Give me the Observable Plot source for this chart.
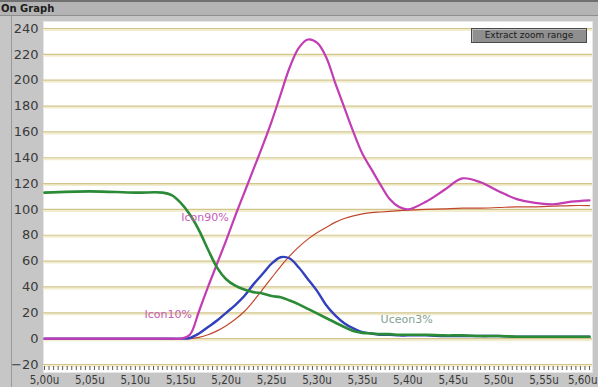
<!DOCTYPE html>
<html>
<head>
<meta charset="utf-8">
<script src="https://cdn.jsdelivr.net/npm/d3@7"></script>
<script src="https://cdn.jsdelivr.net/npm/@observablehq/plot@0.6"></script>
<style>
  body { margin: 0; background: #c6c6c6; }
  #wrap { position: relative; width: 598px; height: 387px; overflow: hidden; background: #c6c6c6; font-family: "DejaVu Sans", sans-serif; }
  #chart { position: absolute; left: 0; top: 0; }
  #bar { position: absolute; left: 0; top: 0; width: 598px; height: 16px; box-sizing: border-box; padding: 0 0 0 1px;
         background: #b4b4b4; border-top: 2px solid #707070; border-bottom: 1px solid #8e8e8e;
         font: bold 10px "DejaVu Sans", sans-serif; color: #1c1c1c; line-height: 13px; }
  #edge { position: absolute; left: 11px; top: 16px; width: 1px; height: 371px; background: #9a9a9a; }
  #btn { position: absolute; left: 471px; top: 28px; width: 116px; height: 15px; box-sizing: border-box;
         background: #8f8f8f; border: 1px solid #4a4a4a; box-shadow: inset 1px 1px 0 #bdbdbd;
         font: 9px "DejaVu Sans", sans-serif; color: #1a1a1a; text-align: center; line-height: 13px; }
</style>
</head>
<body>
<div id="wrap">
  <div id="chart"></div>
  <div id="edge"></div>
  <div id="bar">On Graph</div>
  <div id="btn">Extract zoom range</div>
</div>
<script>
// Sample times (µs)
const time = [5.00, 5.05, 5.10, 5.13, 5.14,
  5.15, 5.16, 5.17, 5.18, 5.19, 5.20, 5.21, 5.22, 5.23, 5.24,
  5.25, 5.26, 5.27, 5.28, 5.29, 5.30, 5.31, 5.32, 5.33, 5.34,
  5.35, 5.36, 5.37, 5.38, 5.39, 5.40,
  5.42, 5.44, 5.46, 5.48, 5.50, 5.52, 5.54, 5.56, 5.58, 5.60];

// Collector current Icon (magenta)
const icon = [0, 0, 0, 0, 0,
  0, 3, 21, 40, 58, 76, 95, 113, 131, 149,
  168, 189, 210, 225, 231.5, 229, 218, 198, 179, 160,
  143, 131, 119, 108, 102, 100,
  106, 115, 124, 121, 114, 108, 105, 104, 106, 107];

// Blue trace
const blue = [0, 0, 0, 0, 0,
  0, 0.5, 4, 9, 14, 20, 26, 33, 42, 50,
  58, 63, 62, 55, 46, 37, 26, 18, 12, 8,
  5, 4, 3, 3, 2.5, 2.5,
  2.5, 2, 2, 2, 2, 1.5, 1.5, 1.5, 1.5, 1.5];

// Red trace
const red = [0, 0, 0, 0, 0,
  0, 0, 1, 3, 6, 10, 15, 21, 29, 38,
  47, 56, 64, 71, 77, 82, 86, 90, 93, 95,
  96.5, 97.5, 98, 98.5, 99, 99.5,
  100, 100.5, 101, 101, 101.5, 102, 102, 102.5, 103, 103];

// Collector-emitter voltage Uce (green)
const uce = [113, 114, 113, 113, 111,
  105, 96, 84, 69, 55, 46, 41, 38, 36, 35,
  33, 32, 29.5, 26.5, 23, 19.5, 16, 12.5, 9, 6,
  4.5, 4, 3.5, 3.5, 3, 3,
  3, 2.5, 2.5, 2, 2, 1.5, 1.5, 1.5, 1.5, 1.5];

// Axis ticks
const yTicks = [-20, 0, 20, 40, 60, 80, 100, 120, 140, 160, 180, 200, 220, 240];
const xTicks = [5.00, 5.05, 5.10, 5.15, 5.20, 5.25, 5.30, 5.35, 5.40, 5.45, 5.50, 5.55];
const xLastTick = [5.60];
const xMinor = d3.range(0, 121).map(i => 5 + i * 0.005);

// Annotations
const noteText = ["Icon10%", "Icon90%", "Uceon3%"];
const noteTime = [5.110, 5.1505, 5.370];
const noteValue = [19, 94, 15];
const noteColor = ["#c45cb8", "#c45cb8", "#7fa292"];

const series = (vals) => time.map((t, i) => ({t, v: vals[i]}));
const notes = noteText.map((s, i) => ({s, t: noteTime[i], v: noteValue[i], c: noteColor[i]}));
const fmt = d => d.toFixed(2).replace(".", ",") + "u";
const xFont = "DejaVu Sans Condensed, DejaVu Sans, sans-serif";

const chart = Plot.plot({
  width: 598,
  height: 387,
  marginLeft: 43, marginRight: 6, marginTop: 21, marginBottom: 15,
  insetLeft: 1, insetRight: 3, insetTop: 7, insetBottom: 8,
  x: {domain: [5.0, 5.6], axis: null, label: null},
  y: {domain: [-20, 240], axis: null, label: null},
  style: {background: "transparent", fontFamily: "DejaVu Sans, sans-serif", color: "#3a3a3a"},
  marks: [
    Plot.frame({fill: "white", stroke: "#e6e6e6"}),
    Plot.ruleY(yTicks, {stroke: "#f2edcf", strokeWidth: 2, dy: 1.5}),
    Plot.ruleY(yTicks, {stroke: "#d2c58c", strokeWidth: 1.2}),
    // small tick row along the bottom of the plot area (ticks only, no text)
    Plot.axisX({ticks: xMinor, tickSize: 4, dy: -6, stroke: "#5a5a5a", fill: "none", label: null}),
    Plot.axisX({ticks: xTicks, tickSize: 0, tickPadding: 3, tickFormat: fmt, fontSize: 11.5, fontFamily: xFont, label: null}),
    Plot.axisX({ticks: xLastTick, tickSize: 0, tickPadding: 3, tickFormat: fmt, fontSize: 11.5, fontFamily: xFont, textAnchor: "end", dx: 8, label: null}),
    Plot.axisY({ticks: yTicks, tickSize: 0, tickPadding: 5, fontSize: 13, label: null}),
    Plot.line(series(red), {x: "t", y: "v", stroke: "#c2482c", strokeWidth: 1.2, curve: "catmull-rom"}),
    Plot.line(series(blue), {x: "t", y: "v", stroke: "#3240bd", strokeWidth: 2.4, curve: "catmull-rom"}),
    Plot.line(series(icon), {x: "t", y: "v", stroke: "#c23cb4", strokeWidth: 2.2, curve: "catmull-rom"}),
    Plot.line(series(uce), {x: "t", y: "v", stroke: "#2a8a36", strokeWidth: 2.6, curve: "catmull-rom"}),
    Plot.text(notes, {x: "t", y: "v", text: "s", fill: "c", textAnchor: "start", fontSize: 11})
  ]
});
document.getElementById("chart").appendChild(chart);
</script>
</body>
</html>
